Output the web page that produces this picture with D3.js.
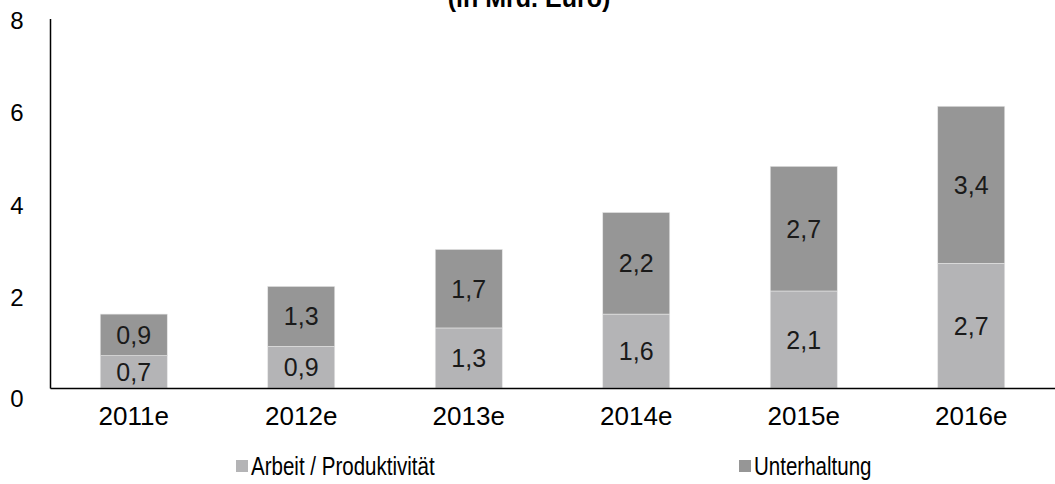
<!DOCTYPE html>
<html>
<head>
<meta charset="utf-8">
<script src="https://cdn.jsdelivr.net/npm/d3@7"></script>
<style>
  body { margin: 0; background: #fff; }
  text { font-family: "Liberation Sans", Arial, sans-serif; fill: #000; }
</style>
</head>
<body>
<svg></svg>
<script>
let width = 1055
let height = 484

let years = ['2011e', '2012e', '2013e', '2014e', '2015e', '2016e']
let arbeit = [0.7, 0.9, 1.3, 1.6, 2.1, 2.7]
let unterhaltung = [0.9, 1.3, 1.7, 2.2, 2.7, 3.4]
let seriesNames = ['Arbeit / Produktivität', 'Unterhaltung']
let yTicks = [0, 2, 4, 6, 8]
let title = '(in Mrd. Euro)'

let colors = ['#b4b4b6', '#969696']

let margin = { top: 18.5, right: 0, bottom: 96, left: 50 }

let rows = years.map((y, i) => ({ year: y, arbeit: arbeit[i], unterhaltung: unterhaltung[i] }))
let stack = d3.stack().keys(['arbeit', 'unterhaltung'])(rows)

let x = d3.scaleBand()
          .domain(years)
          .range([margin.left, width - margin.right])
          .paddingInner(0.6)
          .paddingOuter(0.3)

let y = d3.scaleLinear()
          .domain([0, 8])
          .range([height - margin.bottom, margin.top])

let svg = d3.select('svg')
    .attr('width', width)
    .attr('height', height)

let fmt = v => d3.format('.1f')(v).replace('.', ',')

// bars
svg.selectAll('.layer')
  .data(stack)
  .enter()
  .append('g')
    .classed('layer', true)
    .attr('fill', (d, i) => colors[i])
  .selectAll('rect')
  .data(d => d)
  .enter()
  .append('rect')
    .attr('x', d => x(d.data.year))
    .attr('width', x.bandwidth())
    .attr('y', d => y(d[1]))
    .attr('height', d => y(d[0]) - y(d[1]))
    .attr('stroke', '#e6e6e6')
    .attr('stroke-width', 0.6)

// value labels
svg.selectAll('.layer-label')
  .data(stack)
  .enter()
  .append('g')
    .classed('layer-label', true)
  .selectAll('text')
  .data(d => d)
  .enter()
  .append('text')
    .attr('x', d => x(d.data.year) + x.bandwidth() / 2)
    .attr('y', d => (y(d[0]) + y(d[1])) / 2)
    .attr('dy', '0.36em')
    .attr('text-anchor', 'middle')
    .style('font-size', '25px')
    .style('fill', '#1a1a1a')
    .text(d => fmt(d[1] - d[0]))

// y axis
let yAxis = svg.append('g')
    .attr('transform', `translate(${margin.left},0)`)
    .call(d3.axisLeft(y).tickValues(yTicks).tickSize(0))
yAxis.select('.domain').attr('stroke', '#000').attr('stroke-width', 1.5)
yAxis.selectAll('text')
    .style('font-size', '24px')
    .attr('dy', (d) => d === 0 ? '0.75em' : '0.42em')
    .attr('text-anchor', 'middle')
    .attr('x', -33)

// x axis
let xAxis = svg.append('g')
    .attr('transform', `translate(0,${y(0)})`)
    .call(d3.axisBottom(x).tickSize(0).tickPadding(19))
xAxis.select('.domain').attr('stroke', '#000').attr('stroke-width', 1.5)
xAxis.selectAll('text').style('font-size', '26px')

// title (mostly clipped above the chart, as in the source image)
svg.append('text')
    .attr('x', 529)
    .attr('y', 7)
    .attr('text-anchor', 'middle')
    .style('font-size', '25px')
    .style('font-weight', 'bold')
    .text(title)

// legend (text is condensed in the original)
let legendX = [236, 739]
let legend = svg.selectAll('.legend')
  .data(seriesNames)
  .enter()
  .append('g')
    .classed('legend', true)
    .attr('transform', (d, i) => `translate(${legendX[i]},466)`)

legend.append('rect')
    .attr('y', -6)
    .attr('width', 12)
    .attr('height', 12)
    .attr('fill', (d, i) => colors[i])

legend.append('text')
    .attr('transform', 'translate(15,0) scale(0.79,1)')
    .attr('dy', '0.36em')
    .style('font-size', '26px')
    .text(d => d)
</script>
</body>
</html>
